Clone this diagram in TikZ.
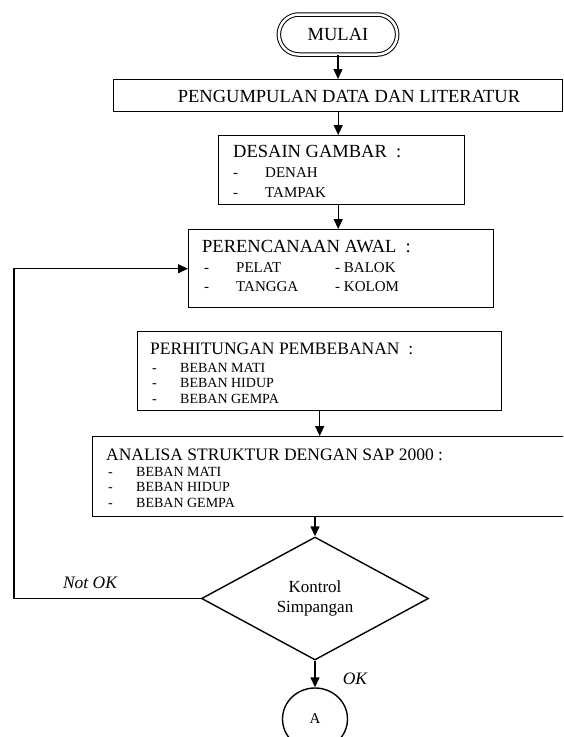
\documentclass[tikz,border=0pt]{standalone}
\usepackage{fontspec}
\setmainfont{Liberation Serif}
\usetikzlibrary{arrows.meta}
\usetikzlibrary{shapes.geometric}
\usetikzlibrary{shapes.misc}
\newcommand{\butir}[2]{\makebox[#1][l]{-}#2}
\tikzset{
  kotak/.style={draw, line width=1.4pt, inner sep=0pt, anchor=north west},
  judul/.style={anchor=west, inner sep=0pt, font=\fontsize{18.5}{20}\selectfont},
  isi/.style={anchor=west, inner sep=0pt, font=\fontsize{15}{16}\selectfont},
  kecil/.style={anchor=west, inner sep=0pt, font=\fontsize{14}{15}\selectfont},
  panah/.style={-{Triangle[length=10pt,width=9pt]}, line width=1.4pt},
}

\begin{document}
\begin{tikzpicture}[x=1pt, y=-1pt]
\useasboundingbox (0,0) rectangle (563,737);
\clip (0,0) rectangle (563,737);
% mulai
\node[rounded rectangle, draw, double, double distance=2.5pt, line width=1pt,
      minimum width=125pt, minimum height=40pt, font=\fontsize{18.5}{20}\selectfont] (mulai) at (338,34.5) {MULAI};
% kotak-kotak
\node[kotak, minimum width=449pt, minimum height=32pt] (kumpul) at (113,79) {};
\node[judul, anchor=center] (kumpulteks) at (349,96) {PENGUMPULAN DATA DAN LITERATUR};

\node[kotak, minimum width=246pt, minimum height=69pt] (desain) at (218,135) {};
\node[judul] (desainjudul) at (233,152) {DESAIN GAMBAR\ \ :};
\node[isi] (denah) at (233,173) {\butir{32pt}{DENAH}};
\node[isi] (tampak) at (233,193) {\butir{32pt}{TAMPAK}};

\node[kotak, minimum width=305pt, minimum height=78pt] (rencana) at (188,229) {};
\node[judul] (rencanajudul) at (202,247) {PERENCANAAN AWAL\ \ :};
\node[isi] (pelat) at (204,268) {\butir{32pt}{\makebox[99pt][l]{PELAT}- BALOK}};
\node[isi] (tangga) at (204,287) {\butir{32pt}{\makebox[99pt][l]{TANGGA}- KOLOM}};

\node[kotak, minimum width=364pt, minimum height=79pt] (hitung) at (137,331) {};
\node[judul, font=\fontsize{17.5}{19}\selectfont] (hitungjudul) at (150,349) {PERHITUNGAN PEMBEBANAN\ \ :};
\foreach \teks [count=\i] in {BEBAN MATI, BEBAN HIDUP, BEBAN GEMPA}
  \node[kecil] (hitung\i) at (152,352+15.5*\i) {\butir{28pt}{\teks}};

\node[kotak, minimum width=490pt, minimum height=80pt] (analisa) at (92,436) {};
\node[judul, font=\fontsize{17.5}{19}\selectfont] (analisajudul) at (106,455) {ANALISA STRUKTUR DENGAN SAP 2000 :};
\foreach \teks [count=\i] in {BEBAN MATI, BEBAN HIDUP, BEBAN GEMPA}
  \node[kecil] (analisa\i) at (108,456+15.5*\i) {\butir{28pt}{\teks}};

% kontrol
\node[diamond, draw, line width=1.4pt, minimum width=227pt, minimum height=123pt, inner sep=0pt,
      align=center, font=\fontsize{17}{20}\selectfont] (kontrol) at (315,598.5) {Kontrol\\Simpangan};
\node[ellipse, draw, line width=1.4pt, minimum width=65pt, minimum height=62pt,
      font=\fontsize{15}{16}\selectfont] (a) at (315,719) {A};

% panah
\draw[panah] (mulai.south) -- (mulai.south |- kumpul.north);
\draw[panah] (kumpul.south) -- (kumpul.south |- desain.north);
\draw[panah] (kumpul.south |- desain.south) -- (kumpul.south |- rencana.north);
\draw[panah] (hitung.south) -- (hitung.south |- analisa.north);
\draw[panah] (kontrol.north |- analisa.south) -- (kontrol.north);
\draw[panah] (kontrol.south) -- (a.north);
\coordinate (balik) at (14,598.5);
\draw[panah, line width=1.1pt] (kontrol.west) -- (balik) |- (rencana.west);
\node[font=\fontsize{17.5}{19}\selectfont\itshape] (notok) at (90,583) {Not OK};
\node[font=\fontsize{17.5}{19}\selectfont\itshape] (ok) at (355,679) {OK};
\end{tikzpicture}
\end{document}
